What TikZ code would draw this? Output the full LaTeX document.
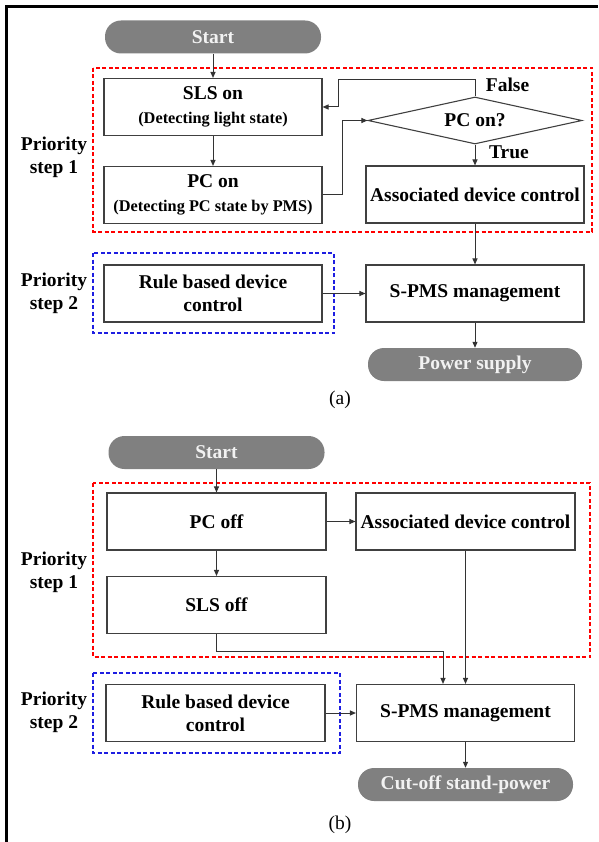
\documentclass[tikz,border=0pt]{standalone}
\usepackage{fontspec}
\setmainfont{Liberation Serif}
\usepackage{tikz}
\usetikzlibrary{positioning, shapes.geometric, arrows.meta}

\definecolor{pillgray}{RGB}{128,128,128}
\definecolor{stepblue}{RGB}{30,30,225}
\newcommand\smalltxt{\fontsize{16.3}{19}\selectfont}

\begin{document}
\begin{tikzpicture}[x=1pt, y=-1pt,
  >={Triangle[length=6pt, width=5pt]},
  font=\fontsize{19.5}{23}\selectfont\bfseries,
  box/.style={draw=black!75, line width=1.1pt, minimum width=218pt, minimum height=57pt, inner sep=0pt, align=center},
  pill/.style={fill=pillgray, text=white!95!black, rounded corners=16pt, minimum width=216pt, minimum height=33pt, inner sep=0pt},
  decision/.style={diamond, draw=black!75, line width=1.1pt, aspect=4.5, minimum width=214pt, minimum height=47pt, inner sep=0pt},
  prio/.style={align=center, inner sep=0pt},
  caption/.style={font=\fontsize{19.5}{23}\selectfont},
  reddash/.style={draw=red, line width=2pt, dash pattern=on 4pt off 2.5pt},
  bluedash/.style={draw=stepblue, line width=2pt, dash pattern=on 4pt off 2.5pt},
  link/.style={->, draw=black!80, line width=1pt}]

\useasboundingbox (0,0) rectangle (598,842);
\draw[line width=3pt] (6.5,842) -- (6.5,7) -- (598,7);

% (a)
\draw[reddash] (93,68) rectangle (592,232);
\draw[bluedash] (93,253) rectangle (334,333);

\node[pill] (startA) at (213,37) {Start};
\node[box] (slsOn) at (213,107) {SLS on\\[1pt]{\smalltxt (Detecting light state)}};
\node[box] (pcOn) at (213,195) {PC on\\[1pt]{\smalltxt (Detecting PC state by PMS)}};
\node[decision] (pcCheck) at (475,120.5) {PC on?};
\node[box] (assocA) at (475,194.5) {Associated device control};
\node[box] (ruleA) at (213,293.5) {Rule based device\\control};
\node[box] (spmsA) at (475,293.5) {S-PMS management};
\node[pill, minimum width=214pt] (powerA) at (475,364.5) {Power supply};
\node (falseLbl) at (507.5,85) {False};
\node (trueLbl) at (509,152) {True};
\node[prio] (prioA1) at (54,157.5) {Priority\\step 1};
\node[prio] (prioA2) at (54,293) {Priority\\step 2};
\node[caption] (capA) at (340,400) {(a)};

\draw[link] (startA) -- (slsOn);
\draw[link] (slsOn) -- (pcOn);
\draw[link] (pcOn.east) -- ++(20,0) |- (pcCheck.west);
\draw[link] (pcCheck.north) -- ++(0,-17) -| ([xshift=16pt]slsOn.east) -- (slsOn.east);
\draw[link] (pcCheck) -- (assocA);
\draw[link] (assocA) -- (spmsA);
\draw[link] (ruleA) -- (spmsA);
\draw[link] (spmsA) -- (powerA);

% (b)
\draw[reddash] (93,483) rectangle (590,657);
\draw[bluedash] (93,673) rectangle (340,753);

\node[pill] (startB) at (216.5,452.5) {Start};
\node[box, minimum width=219pt] (pcOff) at (216.5,521.5) {PC off};
\node[box, minimum width=219pt] (assocB) at (465.5,521.5) {Associated device control};
\node[box, minimum width=219pt] (slsOff) at (216.5,605) {SLS off};
\node[box, minimum width=219pt] (ruleB) at (215.5,713) {Rule based device\\control};
\node[box] (spmsB) at (465.5,713) {S-PMS management};
\node[pill, minimum width=215pt] (cutB) at (465.5,784.5) {Cut-off stand-power};
\node[prio] (prioB1) at (54,572) {Priority\\step 1};
\node[prio] (prioB2) at (54,712.5) {Priority\\step 2};
\node[caption] (capB) at (340,825) {(b)};

\draw[link] (startB) -- (pcOff);
\draw[link] (pcOff) -- (assocB);
\draw[link] (pcOff) -- (slsOff);
\draw[link] (slsOff.south) -- ++(0,17) -| ([xshift=-22.5pt]spmsB.north);
\draw[link] (assocB) -- (spmsB);
\draw[link] (ruleB) -- (spmsB);
\draw[link] (spmsB) -- (cutB);

\end{tikzpicture}
\end{document}
